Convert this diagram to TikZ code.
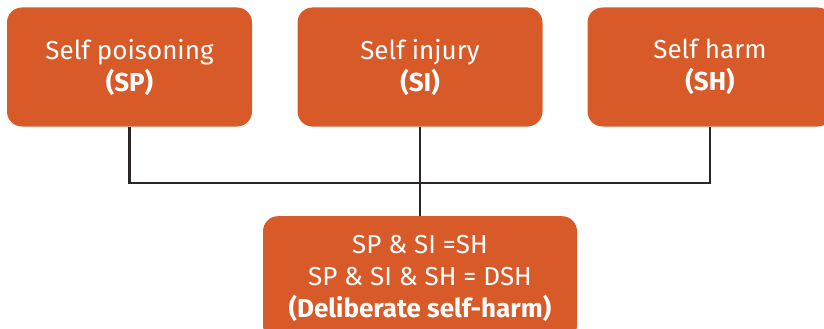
\documentclass[tikz,border=0pt]{standalone}
\usepackage{fontspec}
\setmainfont{Fira Sans}
\definecolor{boxorange}{HTML}{D85A29}
\definecolor{linedark}{HTML}{2A2627}
\begin{document}
\begin{tikzpicture}[x=1pt,y=-1pt,
  box/.style={fill=boxorange, draw=none, rounded corners=15pt, text=white,
    align=center, minimum width=245pt, minimum height=119pt, inner sep=0pt,
    font=\fontsize{26}{32}\selectfont},
  conn/.style={draw=linedark, line width=2.8pt}]
\useasboundingbox (0,0) rectangle (824,329);
\node[box] (sp) at (129.5,67) {Self poisoning\\\textbf{(SP)}};
\node[box] (si) at (420,67) {Self injury\\\textbf{(SI)}};
\node[box] (sh) at (710,67) {Self harm\\\textbf{(SH)}};
\node[box, minimum width=314pt, minimum height=124pt, anchor=north] (bot) at (420,216)
  {SP \& SI =SH\\SP \& SI \& SH = DSH\\\textbf{(Deliberate self-harm)}};
\coordinate (j) at (420,183);
\draw[conn] (sp.south) |- (j) -| (sh.south);
\draw[conn] (si.south) -- (bot.north);
\end{tikzpicture}
\end{document}
